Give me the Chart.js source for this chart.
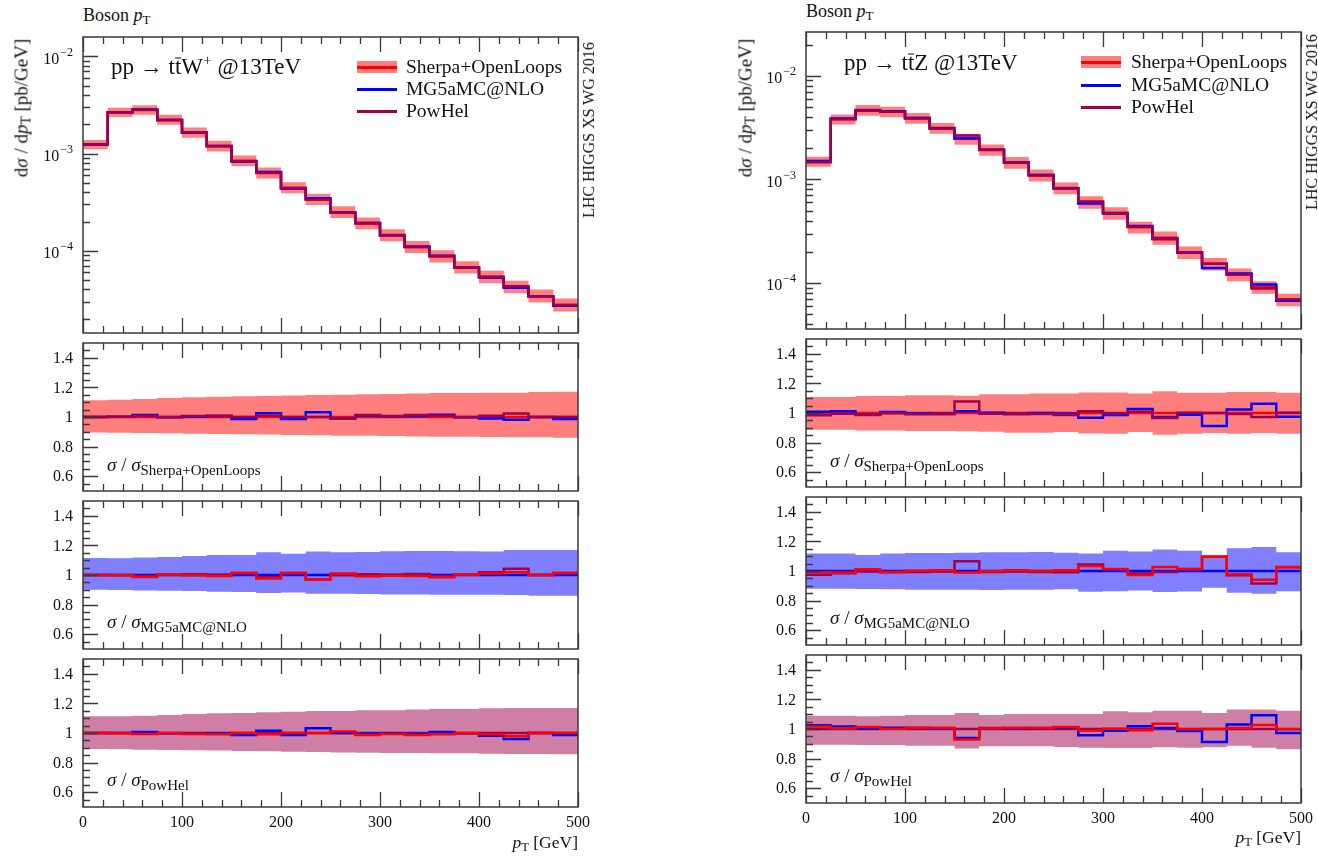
<!DOCTYPE html>
<html>
<head>
<meta charset="utf-8">
<script src="https://cdn.jsdelivr.net/npm/chart.js@4.4.0/dist/chart.umd.min.js"></script>
<style>
  body { margin: 0; background: #fff; width: 1318px; height: 856px; position: relative; overflow: hidden; font-family: "Liberation Serif", serif; color: #111; }
  canvas { position: absolute; }
  .txt { position: absolute; white-space: nowrap; z-index: 2; transform: translateY(-50%); line-height: 1; }
  .rot { position: absolute; white-space: nowrap; z-index: 2; line-height: 1; transform: translate(-50%, -50%) rotate(-90deg); }
  .ov { display: inline-block; line-height: 0.72; border-top: 1.3px solid #111; }
  sub { font-size: 72%; vertical-align: -0.25em; line-height: 0; }
  sup { font-size: 68%; vertical-align: 0.55em; line-height: 0; }
  .rl sub { font-size: 15px; vertical-align: -0.3em; }
  .sw { position: absolute; z-index: 2; }
</style>
</head>
<body>

<!-- left: ttW+ -->
<div class="txt" style="left:83px;top:15px;font-size:18px">Boson <i>p</i><sub>T</sub></div>
<div class="rot" style="left:21px;top:108px;font-size:19px">d<i>σ</i> / d<i>p</i><sub>T</sub> [pb/GeV]</div>
<div class="rot" style="left:589px;top:130px;font-size:16px">LHC HIGGS XS WG 2016</div>
<div class="txt" style="left:111px;top:66px;font-size:23px">pp → t<span class="ov">t</span>W<sup>+</sup> @13TeV</div>
<div class="sw" style="left:357px;top:61px;width:40px;height:12px;background:rgba(255,0,0,0.5)"></div>
<div class="sw" style="left:357px;top:66px;width:40px;height:2.5px;background:#ff0000"></div>
<div class="sw" style="left:357px;top:88px;width:40px;height:2.5px;background:#0000ff"></div>
<div class="sw" style="left:357px;top:110px;width:40px;height:2.5px;background:#a0004e"></div>
<div class="txt" style="left:406px;top:67px;font-size:19.5px">Sherpa+OpenLoops</div>
<div class="txt" style="left:406px;top:89px;font-size:19.5px">MG5aMC@NLO</div>
<div class="txt" style="left:406px;top:111px;font-size:19.5px">PowHel</div>
<div class="txt rl" style="left:107px;top:464px;font-size:19px"><i>σ</i> / <i>σ</i><sub>Sherpa+OpenLoops</sub></div>
<div class="txt rl" style="left:107px;top:621px;font-size:19px"><i>σ</i> / <i>σ</i><sub>MG5aMC@NLO</sub></div>
<div class="txt rl" style="left:107px;top:779px;font-size:19px"><i>σ</i> / <i>σ</i><sub>PowHel</sub></div>
<div class="txt" style="right:740px;top:843px;font-size:17.5px"><i>p</i><sub>T</sub> [GeV]</div>

<!-- right: ttZ -->
<div class="txt" style="left:806px;top:11px;font-size:18px">Boson <i>p</i><sub>T</sub></div>
<div class="rot" style="left:745px;top:108px;font-size:19px">d<i>σ</i> / d<i>p</i><sub>T</sub> [pb/GeV]</div>
<div class="rot" style="left:1312px;top:122px;font-size:16px">LHC HIGGS XS WG 2016</div>
<div class="txt" style="left:844px;top:62px;font-size:23px">pp → t<span class="ov">t</span>Z @13TeV</div>
<div class="sw" style="left:1081px;top:56px;width:40px;height:12px;background:rgba(255,0,0,0.5)"></div>
<div class="sw" style="left:1081px;top:61px;width:40px;height:2.5px;background:#ff0000"></div>
<div class="sw" style="left:1081px;top:84px;width:40px;height:2.5px;background:#0000ff"></div>
<div class="sw" style="left:1081px;top:106px;width:40px;height:2.5px;background:#a0004e"></div>
<div class="txt" style="left:1131px;top:62px;font-size:19.5px">Sherpa+OpenLoops</div>
<div class="txt" style="left:1131px;top:85px;font-size:19.5px">MG5aMC@NLO</div>
<div class="txt" style="left:1131px;top:107px;font-size:19.5px">PowHel</div>
<div class="txt rl" style="left:830px;top:460px;font-size:19px"><i>σ</i> / <i>σ</i><sub>Sherpa+OpenLoops</sub></div>
<div class="txt rl" style="left:830px;top:617px;font-size:19px"><i>σ</i> / <i>σ</i><sub>MG5aMC@NLO</sub></div>
<div class="txt rl" style="left:830px;top:775px;font-size:19px"><i>σ</i> / <i>σ</i><sub>PowHel</sub></div>
<div class="txt" style="right:17px;top:838px;font-size:17.5px"><i>p</i><sub>T</sub> [GeV]</div>

<script>
// bins of 25 GeV
const binEdges = [0, 25, 50, 75, 100, 125, 150, 175, 200, 225, 250, 275, 300, 325, 350, 375, 400, 425, 450, 475, 500];
const xTickValues = [0, 100, 200, 300, 400, 500];
const xTickLabels = ['0', '100', '200', '300', '400', '500'];
const ratioTickValues = [0.6, 0.8, 1, 1.2, 1.4];
const ratioTickLabels = ['0.6', '0.8', '1', '1.2', '1.4'];
const logTickExps = [-4, -3, -2];
const logTickLabels = ['−4', '−3', '−2'];

// ttW+ : Sherpa+OpenLoops dσ/dpT [pb/GeV]
const ttwSherpa = [1.24e-3, 2.66e-3, 2.81e-3, 2.22e-3, 1.64e-3, 1.19e-3, 8.4e-4, 6.3e-4, 4.44e-4, 3.37e-4,
                   2.49e-4, 1.91e-4, 1.44e-4, 1.09e-4, 8.74e-5, 6.73e-5, 5.36e-5, 4.23e-5, 3.41e-5, 2.76e-5];
// ratios to Sherpa
const ttwMg5Ratio = [1.0, 1.002, 1.013, 0.998, 1.002, 1.007, 0.986, 1.025, 0.986, 1.032,
                     0.99, 1.009, 1.005, 1.007, 1.016, 0.998, 0.99, 0.982, 1.0, 0.986];
const ttwPowRatio = [1.0, 1.002, 1.007, 1.0, 1.007, 1.009, 1.0, 1.009, 1.0, 1.0,
                     0.99, 1.014, 1.007, 1.014, 1.009, 1.0, 1.009, 1.023, 1.0, 1.0];
// relative uncertainty bands
const ttwSherpaUp = [1.113, 1.117, 1.122, 1.128, 1.133, 1.137, 1.140, 1.142, 1.146, 1.149,
                     1.151, 1.153, 1.155, 1.158, 1.162, 1.162, 1.164, 1.164, 1.169, 1.171];
const ttwSherpaDn = [0.896, 0.894, 0.892, 0.890, 0.887, 0.885, 0.883, 0.881, 0.878, 0.876,
                     0.874, 0.874, 0.872, 0.869, 0.867, 0.867, 0.865, 0.863, 0.863, 0.860];
const ttwMg5Up = [1.115, 1.113, 1.119, 1.122, 1.128, 1.135, 1.135, 1.153, 1.144, 1.158,
                  1.153, 1.155, 1.160, 1.162, 1.162, 1.160, 1.158, 1.169, 1.169, 1.169];
const ttwMg5Dn = [0.901, 0.899, 0.896, 0.894, 0.892, 0.887, 0.885, 0.878, 0.881, 0.874,
                  0.874, 0.872, 0.869, 0.869, 0.867, 0.867, 0.867, 0.865, 0.860, 0.860];
const ttwPowUp = [1.113, 1.113, 1.117, 1.122, 1.128, 1.133, 1.135, 1.140, 1.144, 1.149,
                  1.149, 1.153, 1.153, 1.158, 1.162, 1.162, 1.167, 1.169, 1.169, 1.169];
const ttwPowDn = [0.892, 0.890, 0.887, 0.885, 0.883, 0.881, 0.878, 0.876, 0.874, 0.872,
                  0.869, 0.867, 0.865, 0.865, 0.863, 0.863, 0.860, 0.858, 0.858, 0.856];

// ttZ
const ttzSherpa = [1.49e-3, 3.82e-3, 4.67e-3, 4.50e-3, 3.91e-3, 3.13e-3, 2.46e-3, 1.93e-3, 1.46e-3, 1.10e-3,
                   8.26e-4, 6.05e-4, 4.74e-4, 3.45e-4, 2.74e-4, 1.98e-4, 1.53e-4, 1.21e-4, 9.1e-5, 6.92e-5];
const ttzMg5Ratio = [1.009, 1.011, 0.989, 1.007, 0.998, 0.995, 1.011, 1.002, 0.995, 1.0,
                     0.995, 0.968, 0.986, 1.027, 0.973, 0.989, 0.912, 1.023, 1.063, 0.975];
const ttzPowRatio = [0.984, 0.995, 0.986, 0.998, 0.991, 0.991, 1.077, 0.995, 0.991, 0.993,
                     0.986, 1.011, 0.998, 1.009, 0.966, 1.002, 1.0, 0.993, 0.973, 1.002];
const ttzSherpaUp = [1.108, 1.108, 1.115, 1.115, 1.120, 1.120, 1.117, 1.127, 1.127, 1.131,
                     1.131, 1.138, 1.138, 1.131, 1.147, 1.136, 1.136, 1.142, 1.142, 1.136];
const ttzSherpaDn = [0.887, 0.887, 0.882, 0.882, 0.878, 0.878, 0.876, 0.874, 0.867, 0.867,
                     0.871, 0.862, 0.860, 0.871, 0.853, 0.860, 0.865, 0.860, 0.865, 0.860];
const ttzMg5Up = [1.118, 1.118, 1.108, 1.118, 1.122, 1.122, 1.124, 1.127, 1.127, 1.129,
                  1.124, 1.118, 1.136, 1.131, 1.145, 1.136, 1.104, 1.154, 1.163, 1.127];
const ttzMg5Dn = [0.880, 0.880, 0.878, 0.876, 0.874, 0.874, 0.874, 0.871, 0.874, 0.874,
                  0.876, 0.860, 0.864, 0.869, 0.858, 0.862, 0.887, 0.853, 0.846, 0.864];
const ttzPowUp = [1.090, 1.090, 1.086, 1.090, 1.095, 1.095, 1.108, 1.095, 1.102, 1.102,
                  1.102, 1.102, 1.120, 1.113, 1.124, 1.124, 1.108, 1.131, 1.131, 1.124];
const ttzPowDn = [0.894, 0.894, 0.892, 0.892, 0.887, 0.887, 0.869, 0.883, 0.883, 0.883,
                  0.878, 0.874, 0.871, 0.871, 0.876, 0.874, 0.876, 0.887, 0.874, 0.864];

const RED = '#ff0000', BLUE = '#0000ff', PURPLE = '#a0004e';
const BAND_RED = 'rgba(255,0,0,0.5)', BAND_BLUE = 'rgba(0,0,255,0.5)', BAND_PURPLE = 'rgba(160,0,78,0.5)';

// histogram: value i holds from edge i to edge i+1, last value repeated at 500
function stepData(vals) {
  return binEdges.map((x, i) => ({ x: x, y: vals[Math.min(i, vals.length - 1)] }));
}
function mul(a, b) { return a.map((v, i) => v * b[i]); }
function div(a, b) { return a.map((v, i) => v / b[i]); }
const ones = ttwSherpa.map(() => 1);

function lineSet(vals, color, order) {
  return { data: stepData(vals), stepped: 'before', borderColor: color, borderWidth: 2.5,
           pointRadius: 0, fill: false, order: order };
}
function bandSets(up, dn, color) {
  return [
    { data: stepData(up), stepped: 'before', borderWidth: 0, borderColor: 'rgba(0,0,0,0)', pointRadius: 0, fill: false, order: 10 },
    { data: stepData(dn), stepped: 'before', borderWidth: 0, borderColor: 'rgba(0,0,0,0)', pointRadius: 0, fill: '-1', backgroundColor: color, order: 9 }
  ];
}

function yTicks(opts, ys) {
  const out = [];
  if (opts.log) {
    for (let k = -6; k <= 0; k++) {
      for (let m = 1; m <= 9; m++) {
        const v = m * Math.pow(10, k);
        if (v > ys.min && v < ys.max) out.push({ v: v, major: m === 1 });
      }
    }
  } else {
    for (let i = 11; i < 30; i++) out.push({ v: i * 0.05, major: i % 4 === 0 });
  }
  return out;
}

const framePlugin = {
  id: 'frame',
  afterDatasetsDraw(chart, args, opts) {
    const ctx = chart.ctx, a = chart.chartArea;
    const xs = chart.scales.x, ys = chart.scales.y;
    ctx.save();
    ctx.strokeStyle = '#3a3a3a';
    ctx.lineWidth = 1.3;
    ctx.beginPath();
    for (let v = 0; v <= 500; v += 20) {
      const px = Math.round(xs.getPixelForValue(v)) + 0.5;
      const len = v % 100 === 0 ? 15 : 7;
      ctx.moveTo(px, a.top); ctx.lineTo(px, a.top + len);
      ctx.moveTo(px, a.bottom); ctx.lineTo(px, a.bottom - len);
    }
    yTicks(opts, ys).forEach(t => {
      const py = Math.round(ys.getPixelForValue(t.v)) + 0.5;
      ctx.moveTo(a.left, py); ctx.lineTo(a.left + (t.major ? 15 : 7), py);
    });
    ctx.stroke();
    ctx.lineWidth = 1.5;
    ctx.strokeRect(a.left, a.top, a.right - a.left, a.bottom - a.top);

    ctx.fillStyle = '#111';
    ctx.textBaseline = 'middle';
    if (opts.log) {
      logTickExps.forEach((e, i) => {
        const py = ys.getPixelForValue(Math.pow(10, e));
        ctx.font = '12px "Liberation Serif"';
        ctx.textAlign = 'right';
        const ew = ctx.measureText(logTickLabels[i]).width;
        ctx.fillText(logTickLabels[i], a.left - 10, py - 4);
        ctx.font = '16px "Liberation Serif"';
        ctx.fillText('10', a.left - 11 - ew, py + 3);
      });
    } else {
      ctx.font = '16px "Liberation Serif"';
      ctx.textAlign = 'right';
      ratioTickValues.forEach((v, i) => ctx.fillText(ratioTickLabels[i], a.left - 10, ys.getPixelForValue(v) + 1));
    }
    if (opts.xLabels) {
      ctx.font = '16px "Liberation Serif"';
      ctx.textAlign = 'center';
      xTickValues.forEach((v, i) => ctx.fillText(xTickLabels[i], xs.getPixelForValue(v), a.bottom + 16));
    }
    ctx.restore();
  }
};

function makePanel(box, yScale, datasets, log, xLabels) {
  const padL = 80, padR = 16, padT = 6, padB = xLabels ? 28 : 6;
  const w = box.r - box.l + padL + padR, h = box.b - box.t + padT + padB;
  const cv = document.createElement('canvas');
  cv.width = w; cv.height = h;
  cv.style.width = w + 'px'; cv.style.height = h + 'px';
  cv.style.left = (box.l - padL) + 'px'; cv.style.top = (box.t - padT) + 'px';
  document.body.appendChild(cv);
  new Chart(cv, {
    type: 'line',
    data: { datasets: datasets },
    options: {
      responsive: false, animation: false, devicePixelRatio: 1, events: [],
      layout: { padding: { left: padL, right: padR, top: padT, bottom: padB } },
      scales: {
        x: { type: 'linear', min: 0, max: 500, display: false },
        y: Object.assign({ display: false }, yScale)
      },
      plugins: { legend: { display: false }, tooltip: { enabled: false }, frame: { log: log, xLabels: xLabels } }
    },
    plugins: [framePlugin]
  });
}

function makeColumn(c) {
  const sherpa = c.sherpa, mg5 = mul(c.sherpa, c.mg5R), pow = mul(c.sherpa, c.powR);
  const ratioY = { type: 'linear', min: 0.5, max: 1.5 };
  // main panel
  makePanel({ l: c.l, r: c.r, t: c.main[0], b: c.main[1] },
    { type: 'logarithmic', min: c.ymin, max: c.ymax },
    bandSets(mul(sherpa, c.sUp), mul(sherpa, c.sDn), BAND_RED).concat([
      lineSet(sherpa, RED, 3), lineSet(mg5, BLUE, 2), lineSet(pow, PURPLE, 1)
    ]), true, false);
  // ratio to Sherpa
  makePanel({ l: c.l, r: c.r, t: c.p1, b: c.p1 + 148 }, ratioY,
    bandSets(c.sUp, c.sDn, BAND_RED).concat([
      lineSet(ones, RED, 3), lineSet(c.mg5R, BLUE, 2), lineSet(c.powR, PURPLE, 1)
    ]), false, false);
  // ratio to MG5aMC@NLO
  makePanel({ l: c.l, r: c.r, t: c.p2, b: c.p2 + 148 }, ratioY,
    bandSets(c.mUp, c.mDn, BAND_BLUE).concat([
      lineSet(ones, BLUE, 3), lineSet(div(c.powR, c.mg5R), PURPLE, 2), lineSet(div(ones, c.mg5R), RED, 1)
    ]), false, false);
  // ratio to PowHel
  makePanel({ l: c.l, r: c.r, t: c.p3, b: c.p3 + 148 }, ratioY,
    bandSets(c.pUp, c.pDn, BAND_PURPLE).concat([
      lineSet(ones, PURPLE, 3), lineSet(div(c.mg5R, c.powR), BLUE, 2), lineSet(div(ones, c.powR), RED, 1)
    ]), false, true);
}

makeColumn({ l: 83, r: 578, main: [37, 333], p1: 343, p2: 501, p3: 659,
  ymin: Math.pow(10, -4.846), ymax: Math.pow(10, -1.80),
  sherpa: ttwSherpa, mg5R: ttwMg5Ratio, powR: ttwPowRatio,
  sUp: ttwSherpaUp, sDn: ttwSherpaDn, mUp: ttwMg5Up, mDn: ttwMg5Dn, pUp: ttwPowUp, pDn: ttwPowDn });

makeColumn({ l: 806, r: 1301, main: [32, 329], p1: 339, p2: 497, p3: 655,
  ymin: Math.pow(10, -4.444), ymax: Math.pow(10, -1.578),
  sherpa: ttzSherpa, mg5R: ttzMg5Ratio, powR: ttzPowRatio,
  sUp: ttzSherpaUp, sDn: ttzSherpaDn, mUp: ttzMg5Up, mDn: ttzMg5Dn, pUp: ttzPowUp, pDn: ttzPowDn });
</script>
</body>
</html>
